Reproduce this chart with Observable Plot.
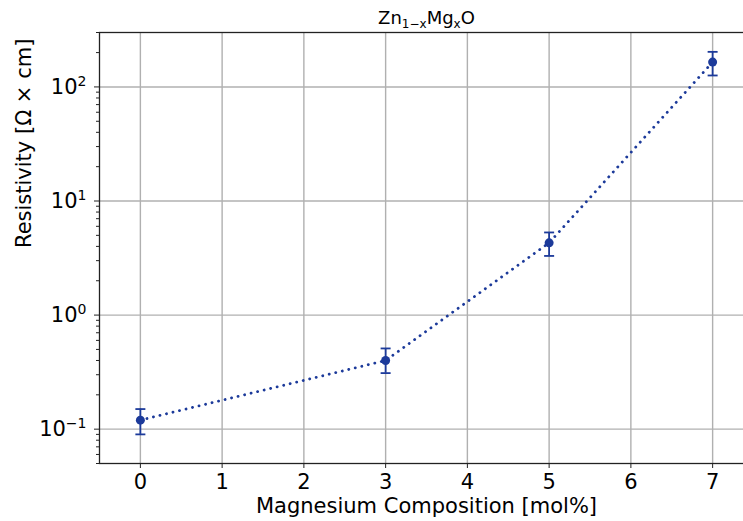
<!DOCTYPE html>
<html><head><meta charset="utf-8">
<script src="https://cdn.jsdelivr.net/npm/d3@7"></script>
<script src="https://cdn.jsdelivr.net/npm/@observablehq/plot@0.6"></script>
<style>
html,body{margin:0;padding:0;background:#fff;overflow:hidden;}
#chart svg{overflow:hidden;}
</style></head><body><div id="chart"></div>
<script>
// ---- data ----
const xValues = [0, 3, 5, 7];                 // Mg composition [mol%]
const resistivity = [0.12, 0.40, 4.3, 165];   // Ω·cm
const errLow = [0.09, 0.31, 3.3, 126];
const errHigh = [0.15, 0.51, 5.3, 203];
const xTicks = [0, 1, 2, 3, 4, 5, 6, 7];
const yTicks = [0.1, 1, 10, 100];
const yTickLabels = ["10^−1", "10^0", "10^1", "10^2"];
const yMinorTicks = [0.05, 0.06, 0.07, 0.08, 0.09,
  0.2, 0.3, 0.4, 0.5, 0.6, 0.7, 0.8, 0.9,
  2, 3, 4, 5, 6, 7, 8, 9,
  20, 30, 40, 50, 60, 70, 80, 90,
  200, 300];
const titleText = "Zn_{1−x}Mg_{x}O";
const xLabel = "Magnesium Composition [mol%]";
const yLabel = "Resistivity [Ω × cm]";

const data = xValues.map((x, i) => ({x, y: resistivity[i], lo: errLow[i], hi: errHigh[i]}));
const color = "#1c3a9a";
const capSymbol = {draw(ctx, size) { const r = Math.sqrt(size / Math.PI); ctx.moveTo(-r, 0); ctx.lineTo(r, 0); }};

const plot = Plot.plot({
  width: 743, height: 521,
  marginLeft: 99, marginTop: 32, marginBottom: 58, marginRight: -10,
  style: {fontFamily: "DejaVu Sans", fontSize: "21px", color: "#000", background: "#fff", overflow: "hidden"},
  x: {type: "linear", domain: [-0.5, 7.5]},
  y: {type: "log", domain: [0.05, 300]},
  marks: [
    Plot.gridX(xTicks, {stroke: "#b0b0b0", strokeOpacity: 1, strokeWidth: 1.4}),
    Plot.gridY(yTicks, {stroke: "#b0b0b0", strokeOpacity: 1, strokeWidth: 1.4}),
    Plot.frame({stroke: "#222", strokeWidth: 1.3}),
    Plot.axisX(xTicks, {tickSize: 5, tickPadding: 6, fontSize: 21, label: null, tickFormat: d => String(d), stroke: "#222"}),
    Plot.axisY(yMinorTicks, {tickSize: 3, tickFormat: () => "", label: null, stroke: "#222"}),
    Plot.axisY(yTicks, {tickSize: 5, tickPadding: 8, fontSize: 21, label: null, stroke: "#222",
      tickFormat: d => yTickLabels[yTicks.indexOf(d)]}),
    Plot.line(data, {x: "x", y: "y", stroke: color, strokeWidth: 2.8, strokeDasharray: "0.1,6.6", strokeLinecap: "round"}),
    Plot.ruleX(data, {x: "x", y1: "lo", y2: "hi", stroke: color, strokeWidth: 1.8}),
    Plot.dot(data, {x: "x", y: "lo", symbol: capSymbol, r: 5, stroke: color, strokeWidth: 1.8, fill: "none"}),
    Plot.dot(data, {x: "x", y: "hi", symbol: capSymbol, r: 5, stroke: color, strokeWidth: 1.8, fill: "none"}),
    Plot.dot(data, {x: "x", y: "y", r: 4.5, fill: color, stroke: "none"}),
    Plot.text([xLabel], {text: d => d, frameAnchor: "bottom", lineAnchor: "middle", dy: 43, fontSize: 21}),
    Plot.text([yLabel], {text: d => d, frameAnchor: "left", lineAnchor: "middle", dx: -75, rotate: -90, fontSize: 21}),
    Plot.text([titleText], {text: d => d, frameAnchor: "top", lineAnchor: "middle", dy: -14, fontSize: 18})
  ]
});
document.getElementById("chart").appendChild(plot);

// superscripts for y tick labels and subscripts in title
d3.select(plot).selectAll("text").each(function() {
  const el = d3.select(this);
  const t = this.textContent;
  if (/^10\^/.test(t)) {
    const [base, exp] = t.split("^");
    el.text(null);
    el.append("tspan").text(base);
    el.append("tspan").attr("font-size", 14).attr("dy", -8).text(exp);
  } else if (t === titleText) {
    el.text(null);
    const parts = t.split(/(_\{[^}]*\})/).filter(s => s.length);
    let shifted = false;
    for (const p of parts) {
      if (p.startsWith("_{")) {
        el.append("tspan").attr("font-size", 12).attr("dy", shifted ? 0 : 4).text(p.slice(2, -1));
        shifted = true;
      } else {
        el.append("tspan").attr("dy", shifted ? -4 : 0).text(p);
        shifted = false;
      }
    }
  }
});
</script></body></html>
